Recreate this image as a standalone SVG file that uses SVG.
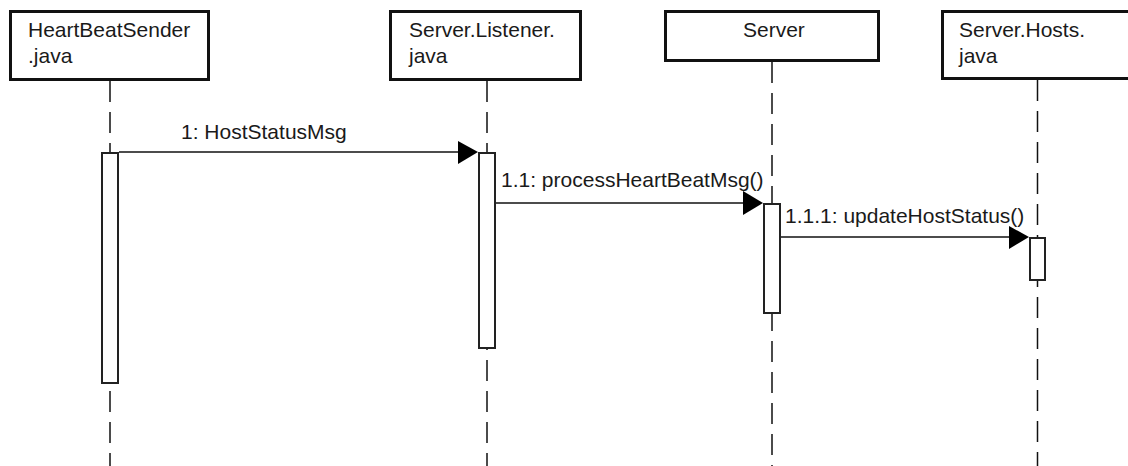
<svg xmlns="http://www.w3.org/2000/svg" width="1128" height="466" viewBox="0 0 1128 466">
<style>
.box{fill:#fff;stroke:#111;stroke-width:3}
.life{stroke:#111;stroke-width:1.5;stroke-dasharray:21 10;fill:none}
.act{fill:#fff;stroke:#222;stroke-width:2}
.msg{stroke:#111;stroke-width:1.5;fill:none}
.head{fill:#000}
text{font-family:"Liberation Sans",Arial,sans-serif;font-size:21px;fill:#1a1a1a}
</style>
<rect width="1128" height="466" fill="#fff"/>
<g id="node-heartbeatsender">
<line class="life" x1="110" y1="81" x2="110" y2="466"/>
<rect class="box" x="10.5" y="11.5" width="198" height="68"/>
<text x="28" y="37">HeartBeatSender</text>
<text x="28" y="63">.java</text>
<rect class="act" x="102" y="153" width="16" height="230"/>
</g>
<g id="node-listener">
<line class="life" x1="487" y1="81" x2="487" y2="466"/>
<rect class="box" x="390.5" y="11.5" width="190" height="68"/>
<text x="409" y="37">Server.Listener.</text>
<text x="409" y="63">java</text>
<rect class="act" x="479" y="153" width="16" height="195"/>
</g>
<g id="node-server">
<line class="life" x1="772" y1="62" x2="772" y2="466"/>
<rect class="box" x="665.5" y="11.5" width="213" height="49"/>
<text x="743" y="37">Server</text>
<rect class="act" x="764" y="204" width="16" height="109"/>
</g>
<g id="node-hosts">
<line class="life" x1="1037.5" y1="80" x2="1037.5" y2="466"/>
<rect class="box" x="942.5" y="11.5" width="200" height="67"/>
<text x="959" y="37">Server.Hosts.</text>
<text x="959" y="63">java</text>
<rect class="act" x="1030" y="238" width="15" height="42"/>
</g>
<g id="connectors">
<line class="msg" x1="119" y1="152" x2="462" y2="152"/>
<polygon class="head" points="458,141 478,152 458,164"/>
<text x="181" y="139">1: HostStatusMsg</text>
<line class="msg" x1="496" y1="203" x2="747" y2="203"/>
<polygon class="head" points="743,191 763,203 743,215"/>
<text x="501" y="187">1.1: processHeartBeatMsg()</text>
<line class="msg" x1="781" y1="237" x2="1013" y2="237"/>
<polygon class="head" points="1009,226 1029,237 1009,249"/>
<text x="785" y="223">1.1.1: updateHostStatus()</text>
</g>
</svg>
